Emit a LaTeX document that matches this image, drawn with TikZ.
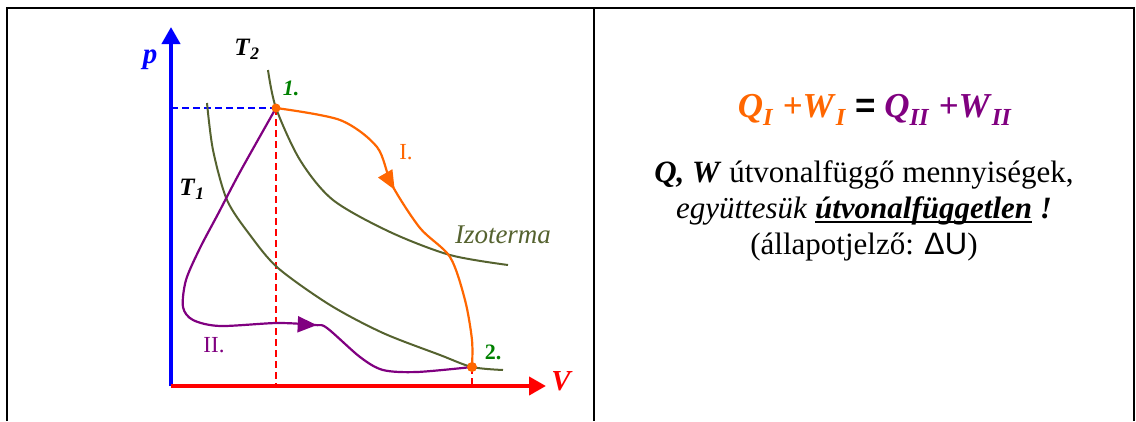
\documentclass[tikz,border=0pt]{standalone}
\usepackage{fontspec}
\setmainfont{Liberation Serif}
\newfontfamily\arialfont{Liberation Sans}
\usetikzlibrary{arrows.meta,decorations.markings}

\definecolor{isoolive}{RGB}{85,98,47}
\definecolor{wegorange}{RGB}{255,102,0}
\definecolor{weglila}{RGB}{128,0,128}
\definecolor{punktgruen}{RGB}{0,128,0}

\newcommand{\fk}[1]{\textbf{\textit{#1}}}
\newcommand{\gross}[1]{\fontsize{#1}{#1}\selectfont}
\newcommand{\unterstr}[1]{\setbox0\hbox{#1}\rlap{\rule[-4pt]{\wd0}{2pt}}\box0\relax}

\tikzset{
  rahmen/.style={line width=2.2pt, black},
  achse/.style={line width=4pt, -{Triangle[length=17pt,width=18pt]}},
  isotherme/.style={isoolive, line width=2pt},
  hilfslinie/.style={line width=2.2pt, dash pattern=on 7pt off 4pt},
  weg/.style={line width=2.2pt},
  wegpfeil/.style={decoration={markings, mark=at position #1 with {\arrow{Triangle[length=19pt,width=16pt]}}}, postaction={decorate}},
}

\begin{document}
\begin{tikzpicture}[x=1pt,y=-1pt]
    \useasboundingbox (0,0) rectangle (1136,421);

    % Tabellenrahmen
    \draw[rahmen] (7,421) -- (7,8) -- (1134,8) -- (1134,421);
    \draw[rahmen] (594,8) -- (594,421);

    % Punkte
    \coordinate (O) at (171,386);
    \coordinate (P1) at (276,108);
    \coordinate (P2) at (472,367);

    % Hilfslinien
    \draw[hilfslinie,blue] (O |- P1) -- (P1);
    \draw[hilfslinie,red] (P1) -- (P1 |- O);
    \draw[hilfslinie,red] (P2) -- (P2 |- O);

    % Isothermen
    \draw[isotherme] plot[smooth] coordinates {(268,70) (P1) (300,160) (333,200) (390,232) (450,255) (508,265)};
    \draw[isotherme] plot[smooth] coordinates {(207,103) (213,150) (227,200) (250,235) (278,268) (330,305) (383,333) (440,355) (P2) (503,370)};

    % Wege
    \draw[weg,wegorange,wegpfeil=0.44] plot[smooth] coordinates {(P1) (340,120) (377,147) (392,185) (420,228) (450,257) (465,300) (472,340) (P2)};
    \draw[weg,weglila,wegpfeil=0.68] plot[smooth] coordinates {(P1) (240,172) (218,214) (200,248) (186,280) (183,307) (193,320) (220,326) (277,323) (315,325) (327,328) (360,357) (383,370) (417,372) (P2)};

    % Achsen
    \draw[achse,blue] (O) -- (171,27);
    \draw[achse,red] (O) -- (546,386);

    \fill[wegorange] (P1) circle (4.5);
    \fill[wegorange] (P2) circle (5);

    % Beschriftungen
    \node[blue,font=\gross{29}\bfseries\itshape] (plabel) at (150,60) {p};
    \node[red,font=\gross{29}\bfseries\itshape] (vlabel) at (561,381) {V};
    \node[font=\gross{25}] (tzwei) at (247,49) {\fk{T}\textsubscript{\fk{2}}};
    \node[font=\gross{25}] (teins) at (192,189) {\fk{T}\textsubscript{\fk{1}}};
    \node[punktgruen,font=\gross{22}\bfseries\itshape] (eins) at (291,88) {1.};
    \node[punktgruen,font=\gross{22}\bfseries] (zwei) at (493,352) {2.};
    \node[wegorange,font=\gross{23}] (wegI) at (406,152) {I.};
    \node[weglila,font=\gross{23}] (wegII) at (214,345) {II.};
    \node[isoolive,font=\gross{27}\itshape] (izoterma) at (503,235) {Izoterma};

    % Erklaerung
    \node[font=\gross{35}] (gleichung) at (875,110)
        {{\color{wegorange}\fk{Q}\textsubscript{\fk{I}} \fk{+W}\textsubscript{\fk{I}}} {\arialfont\bfseries =} {\color{weglila}\fk{Q}\textsubscript{\fk{II}} \fk{+W}\textsubscript{\fk{II}}}};
    \node[align=center,font=\fontsize{31}{36}\selectfont] (erklaerung) at (864,211)
        {\fk{Q, W} útvonalfüggő mennyiségek,\\
         \textit{együttesük} \unterstr{\fk{útvonalfüggetlen}} \fk{!}\\
         (állapotjelző: {\arialfont ΔU})};
\end{tikzpicture}
\end{document}
